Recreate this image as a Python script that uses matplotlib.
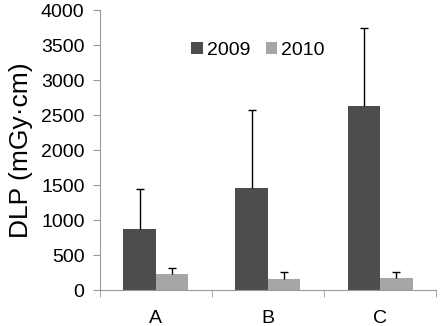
import matplotlib
matplotlib.use("agg")
import matplotlib.pyplot as plt
import numpy as np

plt.rcParams["font.family"] = ["Liberation Sans", "DejaVu Sans"]

categories = ["A", "B", "C"]
dlp_2009 = [870, 1460, 2630]
err_2009 = [570, 1110, 1110]
dlp_2010 = [230, 165, 180]
err_2010 = [90, 95, 80]

fig = plt.figure(figsize=(4.4, 3.26), dpi=100)
ax = fig.add_axes([0.227, 0.110, 0.764, 0.859])

x = np.arange(len(categories))
w = 0.29
ax.bar(x - w / 2, dlp_2009, w, color="#4d4d4d", label="2009")
ax.bar(x + w / 2, dlp_2010, w, color="#a6a6a6", label="2010")

# only the upper half of each error bar, no cap at the bar top
for xs, vals, errs in [(x - w / 2, dlp_2009, err_2009), (x + w / 2, dlp_2010, err_2010)]:
    eb = ax.errorbar(xs, vals, yerr=[np.zeros(3), errs], fmt="none", ecolor="black",
                     elinewidth=1, capsize=3, capthick=1)
    eb[1][0].set_visible(False)

ax.set_xlim(-0.5, 2.5)
ax.set_ylim(0, 4000)
ax.set_yticks(np.arange(0, 4001, 500))
ax.set_xticks(x)
ax.set_xticklabels(categories)
ax.set_xticks([-0.5, 0.5, 1.5, 2.5], minor=True)
ax.tick_params(axis="x", which="major", length=0, pad=14, labelsize=14)
ax.tick_params(axis="x", which="minor", length=5, color="#999999")
ax.tick_params(axis="y", length=5, color="#999999", labelsize=14, pad=6)

for s in ["top", "right"]:
    ax.spines[s].set_visible(False)
for s in ["left", "bottom"]:
    ax.spines[s].set_color("#999999")

ax.set_ylabel("DLP (mGy·cm)", fontsize=19, labelpad=6)

ax.legend(loc="upper left", bbox_to_anchor=(0.22, 0.95), ncol=2, frameon=False,
          fontsize=14, handlelength=0.6, handleheight=0.6, handletextpad=0.2,
          columnspacing=0.8)

fig.savefig("out.png", dpi=100)
